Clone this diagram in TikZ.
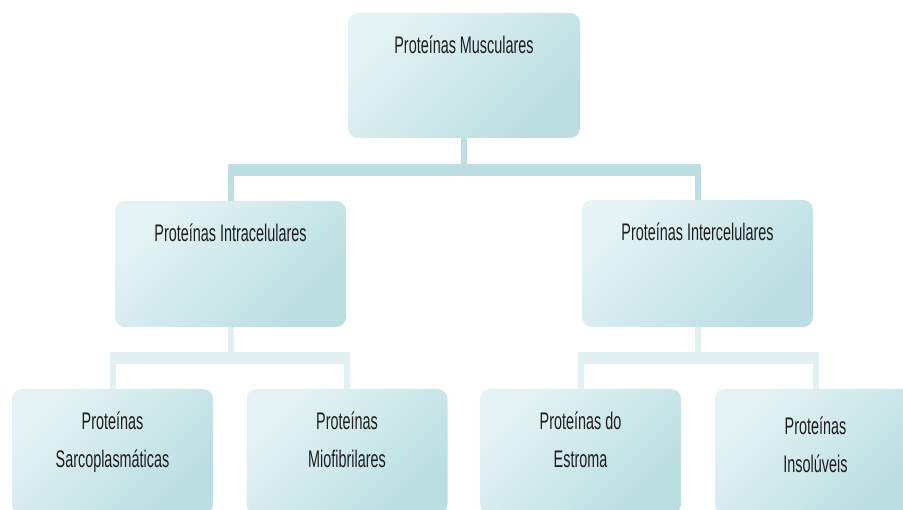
\documentclass[tikz,border=0pt]{standalone}
\usepackage{fontspec}
\setmainfont{Liberation Sans}[FakeStretch=0.6]
\usepackage{tikz}
\definecolor{boxlight}{RGB}{229,243,244}
\definecolor{boxdark}{RGB}{186,222,226}
\definecolor{linkdark}{RGB}{189,223,226}
\definecolor{linklight}{RGB}{226,240,241}
\definecolor{textgray}{RGB}{30,30,30}
\tikzset{
  protbox/.style={rounded corners=10pt, top color=boxlight, bottom color=boxdark,
    shading angle=45, inner sep=0pt, text height=41pt, align=center,
    text=textgray, font=\fontsize{24pt}{38pt}\selectfont},
  twoline/.style={text height=79pt, text depth=46pt},
  toplink/.style={draw=linkdark, line width=6pt},
  sublink/.style={draw=linklight, line width=6pt},
  barlink/.style={line width=12pt, shorten <=-3pt, shorten >=-3pt}
}

\begin{document}
\begin{tikzpicture}[x=1pt, y=-1pt]
    \useasboundingbox (0,0) rectangle (903,510);
    \clip (0,0) rectangle (903,510);

    % Top level
    \node[protbox, minimum width=232pt, text depth=84pt] (mus) at (464,75.5) {Proteínas Musculares};

    % Second level
    \node[protbox, minimum width=231pt, text depth=85pt] (intra) at (230.5,264) {Proteínas Intracelulares};
    \node[protbox, minimum width=231pt, text depth=86pt] (inter) at (697.5,263.5) {Proteínas Intercelulares};

    % Third level
    \node[protbox, twoline, minimum width=201pt] (sarco) at (112.5,451.5) {Proteínas\\Sarcoplasmáticas};
    \node[protbox, twoline, minimum width=201pt] (miof) at (347,451.5) {Proteínas\\Miofibrilares};
    \node[protbox, twoline, minimum width=201pt] (estr) at (580.5,451.5) {Proteínas do\\Estroma};
    \node[protbox, twoline, minimum width=201pt, text height=84pt, text depth=41pt] (insol) at (815.5,451.5) {Proteínas\\Insolúveis};

    % Junctions
    \coordinate (jtop) at (464,170);
    \coordinate (jintra) at (230.5,358);
    \coordinate (jinter) at (697.5,358);

    % Links from the top box
    \draw[toplink] (mus) -- (jtop);
    \draw[toplink, barlink] (intra |- jtop) -- (inter |- jtop);
    \draw[toplink] (intra |- jtop) -- (intra);
    \draw[toplink] (inter |- jtop) -- (inter);

    % Links below the intracellular box
    \draw[sublink] (intra) -- (jintra);
    \draw[sublink, barlink] (sarco |- jintra) -- (miof |- jintra);
    \draw[sublink] (sarco |- jintra) -- (sarco);
    \draw[sublink] (miof |- jintra) -- (miof);

    % Links below the intercellular box
    \draw[sublink] (inter) -- (jinter);
    \draw[sublink, barlink] (estr |- jinter) -- (insol |- jinter);
    \draw[sublink] (estr |- jinter) -- (estr);
    \draw[sublink] (insol |- jinter) -- (insol);
\end{tikzpicture}
\end{document}
